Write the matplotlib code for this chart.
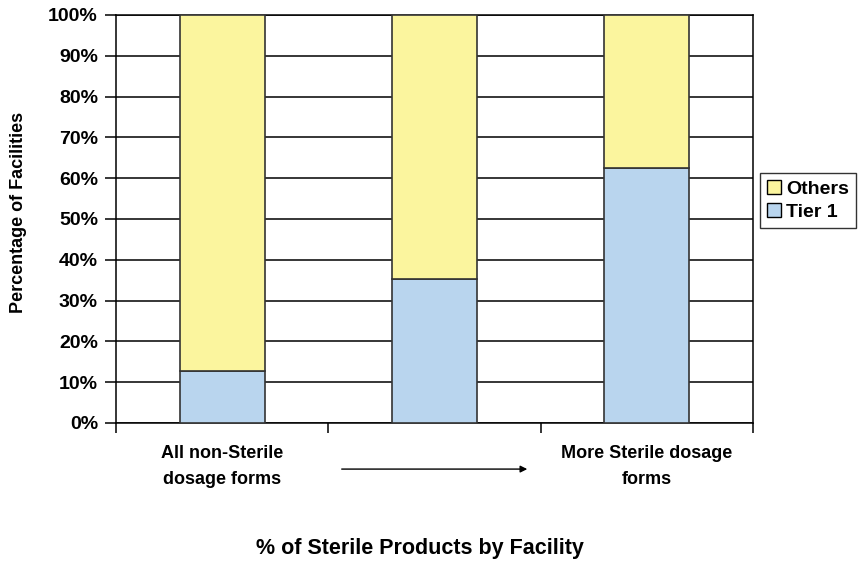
import matplotlib
matplotlib.use("Agg")
import matplotlib.pyplot as plt
import matplotlib.patches as mpatches
import numpy as np

# data (percent of facilities)
categories = ["All non-Sterile\ndosage forms", "", "More Sterile dosage\nforms"]
tier1 = [12.7, 35.3, 62.5]
others = [100 - v for v in tier1]

col_tier1 = '#B9D5EE'
col_others = '#FBF59E'

plt.rcParams['font.family'] = ['Liberation Sans', 'DejaVu Sans']

fig = plt.figure(figsize=(8.58, 5.63), dpi=100)
ax = fig.add_axes([0.1352, 0.2487, 0.7424, 0.7247])

x = np.arange(len(categories))
ax.bar(x, tier1, width=0.4, color=col_tier1, edgecolor='#333333', lw=1.2, zorder=3)
ax.bar(x, others, width=0.4, bottom=tier1, color=col_others, edgecolor='#333333', lw=1.2, zorder=3)

ax.set_xlim(-0.5, 2.5)
ax.set_ylim(0, 100)
ax.set_yticks(np.arange(0, 101, 10))
ax.set_yticklabels(['%d%%' % v for v in range(0, 101, 10)], fontsize=14, fontweight='bold')
ax.yaxis.grid(True, color='black', lw=1.1, zorder=0)
ax.set_axisbelow(True)
ax.tick_params(axis='y', length=8, width=1.1, pad=5)

ax.set_xticks(x)
ax.set_xticklabels(categories, fontsize=13, fontweight='bold', linespacing=1.65)
ax.tick_params(axis='x', which='major', length=0, pad=16)
ax.set_xticks([-0.5, 0.5, 1.5, 2.5], minor=True)
ax.tick_params(axis='x', which='minor', length=7, width=1.1)

for s in ax.spines.values():
    s.set_color('black')
    s.set_linewidth(1.1)

ax.annotate('', xy=(1.45, -0.113), xytext=(0.55, -0.113),
            xycoords=ax.get_xaxis_transform(), textcoords=ax.get_xaxis_transform(),
            arrowprops=dict(arrowstyle='-|>', color='black', lw=1, mutation_scale=10),
            annotation_clip=False)

fig.text(0.021, 0.623, 'Percentage of Facilities', rotation=90, ha='center', va='center',
         fontsize=13, fontweight='bold')
fig.text(0.4895, 0.0266, '% of Sterile Products by Facility', ha='center', va='center',
         fontsize=15.5, fontweight='bold')

h1 = mpatches.Patch(facecolor=col_others, edgecolor='black', label='Others')
h2 = mpatches.Patch(facecolor=col_tier1, edgecolor='black', label='Tier 1')
leg = fig.legend(handles=[h1, h2], loc='center left', bbox_to_anchor=(0.886, 0.644),
                 prop={'size': 14, 'weight': 'bold'}, fancybox=False, edgecolor='black',
                 handlelength=0.7, handleheight=0.7, handletextpad=0.3,
                 borderpad=0.35, labelspacing=0.3, borderaxespad=0)
leg.get_frame().set_linewidth(1)

fig.savefig('out.png', dpi=100)
